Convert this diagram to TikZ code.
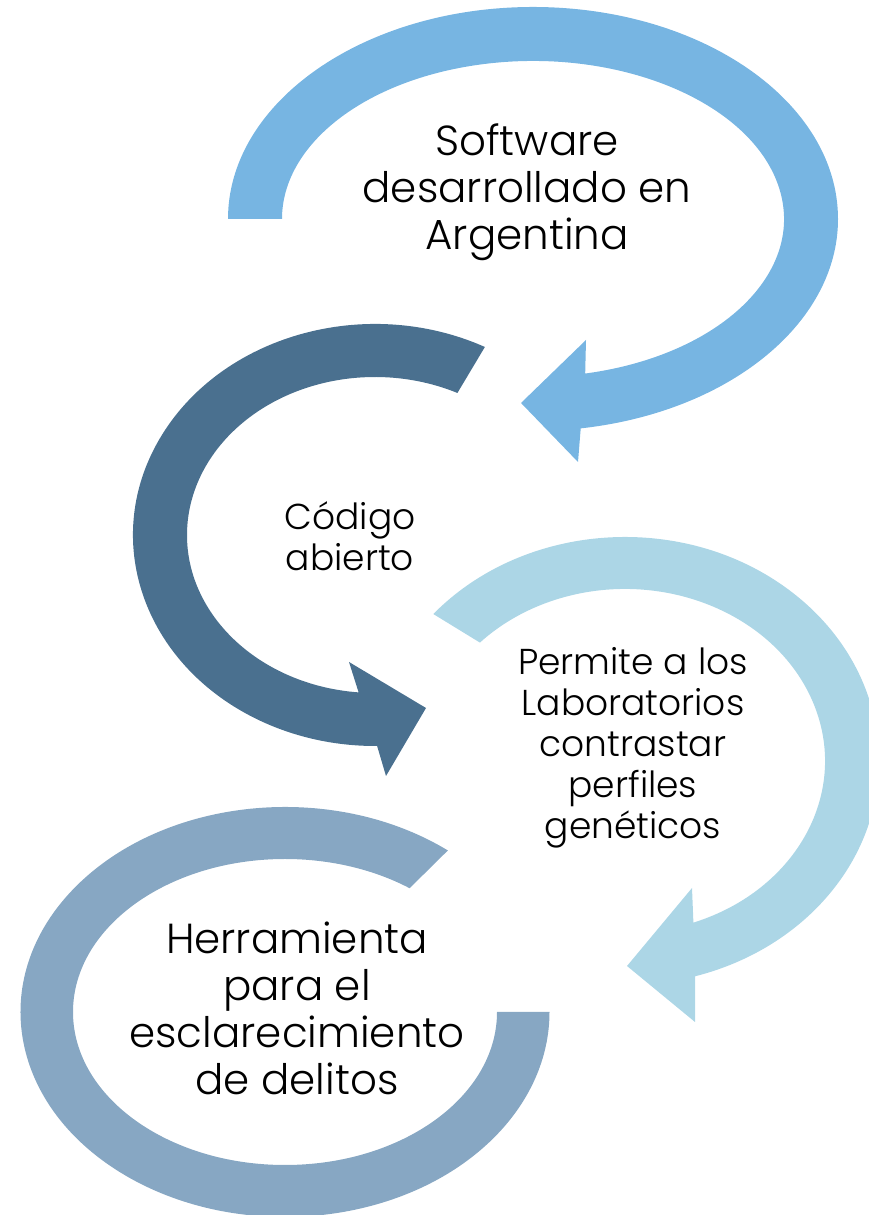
\documentclass[tikz,border=0pt]{standalone}
\usepackage{fontspec}
\setmainfont{Poppins}[UprightFont=* Light]
\usepackage{xcolor}
\usepackage{tikz}
\definecolor{arrowone}{HTML}{77B5E2}
\definecolor{arrowtwo}{HTML}{4A708F}
\definecolor{arrowthree}{HTML}{ACD6E6}
\definecolor{arrowfour}{HTML}{87A7C3}
\tikzset{
  bigtext/.style={align=center, font=\fontsize{42}{47}\selectfont},
  smalltext/.style={align=center, font=\fontsize{36}{41}\selectfont}
}

\begin{document}
\begin{tikzpicture}[x=1pt,y=1pt]
        \useasboundingbox (0,0) rectangle (869,1215);
        % First arrow, top right
        \fill[arrowone] ([shift={(533,996)}]180:305 and 212) arc[start angle=180, end angle=-81, x radius=305, y radius=212]
            -- (578,753) -- (521,812) -- (586,875)
            -- ([shift={(533,996)}]-78:251 and 158) arc[start angle=-78, end angle=180, x radius=251, y radius=158] -- cycle;
        % Second arrow, left
        \fill[arrowtwo] ([shift={(375,680)}]63:242 and 211) arc[start angle=63, end angle=270.5, x radius=242, y radius=211]
            -- (386,439) -- (426,507) -- (349,553)
            -- ([shift={(375,680)}]265:188 and 158) arc[start angle=265, end angle=64, x radius=188, y radius=158] -- cycle;
        % Third arrow, right
        \fill[arrowthree] ([shift={(625,454)}]139:254 and 224) arc[start angle=139, end angle=-74, x radius=254, y radius=224]
            -- (695,193) -- (627,249) -- (692,327)
            -- ([shift={(625,454)}]-70:200 and 172) arc[start angle=-70, end angle=136.5, x radius=200, y radius=172] -- cycle;
        % Fourth arrow, bottom left (no head)
        \fill[arrowfour] ([shift={(285,203)}]52:264.5 and 205) arc[start angle=52, end angle=360, x radius=264.5, y radius=205]
            -- ([shift={(285,203)}]0:212 and 153) arc[start angle=360, end angle=54, x radius=212, y radius=153] -- cycle;

        \node[bigtext] (software) at (527,1023) {Software\\desarrollado en\\Argentina};
        \node[smalltext] (codigo) at (350,679) {Código\\abierto};
        \node[smalltext] (permite) at (633,467) {Permite a los\\Laboratorios\\contrastar\\perfiles\\genéticos};
        \node[bigtext] (herramienta) at (297,207) {Herramienta\\para el\\esclarecimiento\\de delitos};
    \end{tikzpicture}
\end{document}
